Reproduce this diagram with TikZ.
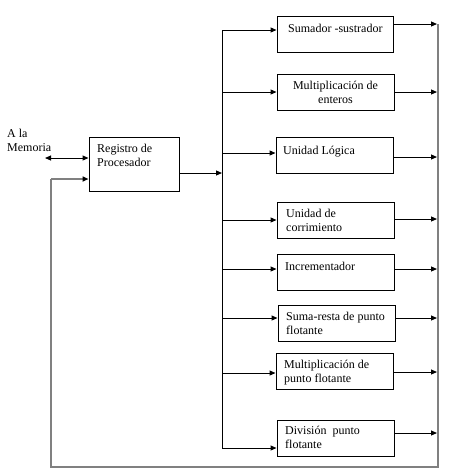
\documentclass[tikz,border=0pt]{standalone}
\usepackage{fontspec}
\setmainfont{Liberation Serif}
\usetikzlibrary{arrows.meta, positioning, calc}

\tikzset{
    unidad/.style={draw, line width=1pt, minimum width=117pt, minimum height=36pt, inner sep=0pt},
    texto/.style={inner sep=0pt, anchor=base west, align=left, font=\fontsize{12}{14}\selectfont},
    flecha/.style={line width=1pt, -{Triangle[length=6pt, width=5pt]}},
    retorno/.style={line width=1.5pt, draw=black!50}
}

\begin{document}
\begin{tikzpicture}[x=1pt, y=-1pt]
    \useasboundingbox (0, 0) rectangle (449, 472);
    % unidades funcionales
    \node[unidad, minimum width=116pt] (sum) at (335, 34) {};
    \node[unidad] (mult) at (335.5, 92) {};
    \node[unidad] (log) at (334.5, 155) {};
    \node[unidad] (corr) at (335.5, 220) {};
    \node[unidad] (inc) at (335.5, 272) {};
    \node[unidad] (sr) at (336.5, 323) {};
    \node[unidad] (mpf) at (334.5, 371) {};
    \node[unidad] (div) at (335.5, 438) {};
    \node[unidad, minimum width=90pt, minimum height=54pt] (reg) at (134, 164) {};
    % textos (base = ultima linea)
    \node[texto] (tsum) at (288, 32) {Sumador -sustrador};
    \node[texto, anchor=base, align=center] (tmult) at (335.5, 103) {Multiplicación de\\enteros};
    \node[texto] (tlog) at (283, 154) {Unidad Lógica};
    \node[texto] (tcorr) at (286, 231) {Unidad de\\corrimiento};
    \node[texto] (tinc) at (285, 270) {Incrementador};
    \node[texto] (tsr) at (286, 334) {Suma-resta de punto\\flotante};
    \node[texto] (tmpf) at (284, 382) {Multiplicación de\\punto flotante};
    \node[texto] (tdiv) at (285, 448) {División~ punto\\flotante};
    \node[texto] (treg) at (97, 166) {Registro de\\Procesador};
    \node[texto] (tmem) at (7, 151) {A la\\Memoria};
    % bus de entrada y columna de salida
    \coordinate (bus top) at (222, 30);
    \coordinate (bus bot) at (222, 448);
    \coordinate (col top) at (438, 24);
    \coordinate (col bot) at (438, 467);
    \coordinate (izq bot) at (51, 467);
    \coordinate (mem) at (45, 158);
    \draw[line width=1pt] (bus top) -- (bus bot);
    \foreach \b/\din/\dout in {sum/4/10, mult/0/0, log/2/-2, corr/0/1, inc/3/3, sr/5/5, mpf/-2/-1, div/-10/5} {
        \coordinate (e\b) at ([yshift=\din pt]\b.west);
        \coordinate (s\b) at ([yshift=\dout pt]\b.east);
        \draw[flecha] (bus top |- e\b) -- (e\b);
        \draw[flecha] (s\b) -- ([xshift=-1pt]col top |- s\b);
    }
    \coordinate (ereg) at ([yshift=-15pt]reg.west);
    \coordinate (sreg) at ([yshift=-9pt]reg.east);
    \coordinate (mreg) at ([yshift=6pt]reg.west);
    \draw[flecha] (sreg) -- (bus top |- sreg);
    \draw[flecha, {Triangle[length=6pt, width=5pt]}-{Triangle[length=6pt, width=5pt]}] (mem) -- (mreg);
    \draw[retorno] (col top) -- (col bot) -- (izq bot) -- (izq bot |- ereg);
    \draw[retorno, -{Triangle[length=6pt, width=5pt, color=black]}] (izq bot |- ereg) -- (ereg);
\end{tikzpicture}
\end{document}
